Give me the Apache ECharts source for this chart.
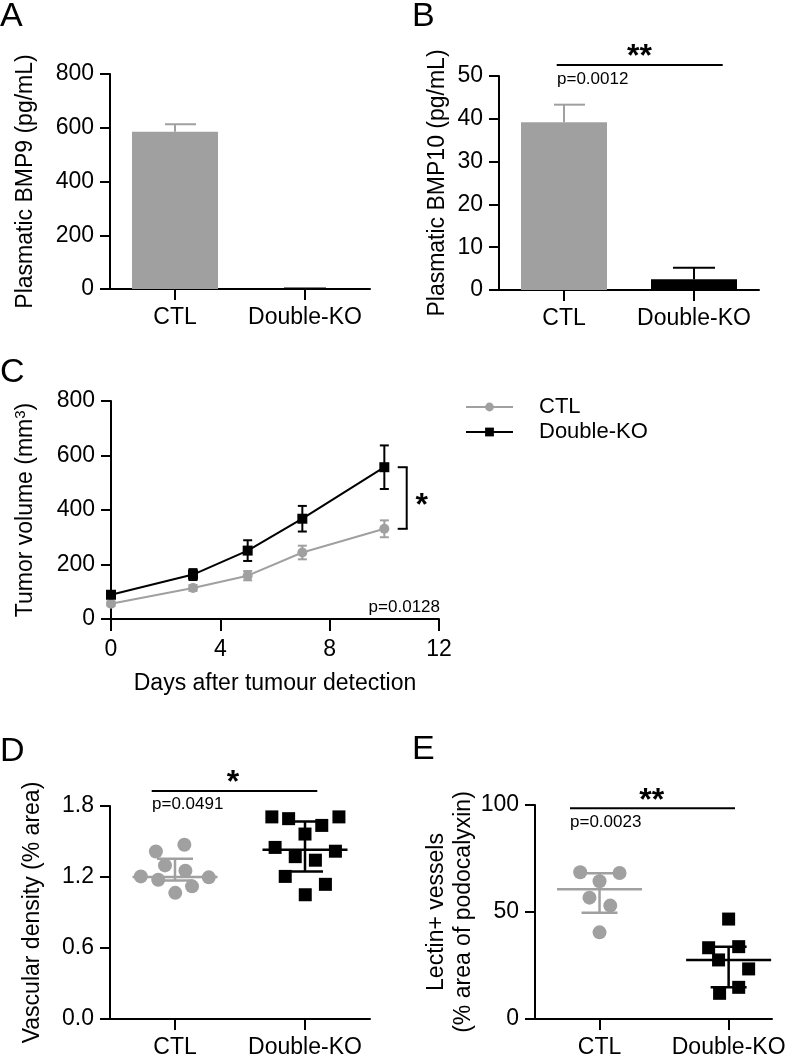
<!DOCTYPE html>
<html>
<head>
<meta charset="utf-8">
<script src="https://cdn.jsdelivr.net/npm/echarts@6/dist/echarts.min.js"></script>
<style>
html,body{margin:0;padding:0;background:#fff;}
#chart{width:794px;height:1059px;}
</style>
</head>
<body>
<div id="chart"></div>
<script>
// ---------- DATA ----------
const groups = ['CTL', 'Double-KO'];
// Panel A: plasmatic BMP9 (pg/mL)
const bmp9Mean = [585, 1];
const bmp9Err = [28, 1];
// Panel B: plasmatic BMP10 (pg/mL)
const bmp10Mean = [39.2, 2.5];
const bmp10Err = [4.1, 2.7];
// Panel C: tumor volume (mm3)
const days = [0, 3, 5, 7, 10];
const ctlVolume = [56, 114, 159, 244, 331];
const ctlVolumeErr = [8, 11, 17, 25, 31];
const dkoVolume = [89, 163, 251, 368, 557];
const dkoVolumeErr = [12, 20, 38, 47, 80];
// Panel D: vascular density (% area)
const vdCtl = [1.416, 1.472, 1.298, 1.205, 1.177, 1.253, 1.197, 1.121, 1.066];
const vdCtlJitter = [-0.147, 0.072, -0.077, -0.263, -0.129, 0.080, 0.260, 0.131, 0.002];
const vdDko = [1.708, 1.693, 1.636, 1.708, 1.563, 1.450, 1.372, 1.342, 1.418, 1.205, 1.138, 1.050];
const vdDkoJitter = [-0.255, -0.126, 0.129, 0.261, 0, -0.230, -0.075, 0.080, 0.234, -0.152, 0.157, 0.002];
const vdMedian = [1.20, 1.43];
const vdQ1 = [1.17, 1.247];
const vdQ3 = [1.354, 1.668];
// Panel E: lectin+ vessels (% area of podocalyxin)
const lcCtl = [68.6, 68.2, 64.4, 56.7, 53.0, 40.5];
const lcCtlJitter = [-0.150, 0.155, 0, -0.078, 0.083, 0];
const lcDko = [46.7, 33.3, 33.8, 27.6, 23.4, 12.0, 14.8];
const lcDkoJitter = [0, -0.155, 0.078, -0.078, 0.155, -0.07, 0.078];
const lcMedian = [60.6, 27.6];
const lcQ1 = [49.7, 14.8];
const lcQ3 = [68.1, 33.8];

// ---------- STYLE ----------
const GRAY = '#a0a0a0';
const BLACK = '#000000';
const FONT = '"Liberation Sans", Arial, Helvetica, sans-serif';
const FS = 23;
const groupColors = [GRAY, BLACK];

const chart = echarts.init(document.getElementById('chart'), null, {renderer: 'canvas'});

function yAxisBase(gridIndex, min, max, interval, name, nameGap, fmt) {
  return {
    type: 'value', gridIndex, min, max, interval, name, nameGap,
    nameLocation: 'middle',
    nameTextStyle: {fontFamily: FONT, fontSize: FS, color: BLACK, lineHeight: 27},
    axisLine: {show: true, onZero: false, lineStyle: {color: BLACK, width: 2}},
    axisTick: {show: true, length: 10, lineStyle: {color: BLACK, width: 2}},
    axisLabel: {fontFamily: FONT, fontSize: FS, color: BLACK, margin: 16,
      formatter: fmt || (v => String(v))},
    splitLine: {show: false}
  };
}
function catAxisValue(gridIndex, min, max) {
  return {
    type: 'value', gridIndex, min, max,
    axisLine: {show: true, onZero: false, lineStyle: {color: BLACK, width: 2}},
    axisTick: {show: true, length: 11, customValues: [0, 1], lineStyle: {color: BLACK, width: 2}},
    axisLabel: {fontFamily: FONT, fontSize: FS, color: BLACK, margin: 17, customValues: [0, 1],
      formatter: v => groups[Math.round(v)]},
    splitLine: {show: false}
  };
}
function catAxis(gridIndex) {
  return {
    type: 'category', gridIndex, data: groups, boundaryGap: true,
    axisLine: {show: true, lineStyle: {color: BLACK, width: 2}},
    axisTick: {show: true, length: 11, alignWithLabel: true, interval: 0, lineStyle: {color: BLACK, width: 2}},
    axisLabel: {fontFamily: FONT, fontSize: FS, color: BLACK, margin: 17, interval: 0, hideOverlap: false},
    splitLine: {show: false}
  };
}

function barErrRender(params, api) {
  const i = api.value(0), v = api.value(1), e = api.value(2);
  const base = api.coord([i, v]);
  const top = api.coord([i, v + e]);
  const col = groupColors[i];
  const capL = i === 0 ? 10 : 21, capR = 21;
  return {type: 'group', children: [
    {type: 'line', shape: {x1: base[0], y1: base[1], x2: top[0], y2: top[1]}, style: {stroke: col, lineWidth: 2}},
    {type: 'line', shape: {x1: top[0] - capL, y1: top[1], x2: top[0] + capR, y2: top[1]}, style: {stroke: col, lineWidth: 2}}
  ]};
}
function symErrRender(color) {
  return function (params, api) {
    const x = api.value(0), v = api.value(1), e = api.value(2);
    const lo = api.coord([x, v - e]), hi = api.coord([x, v + e]);
    return {type: 'group', children: [
      {type: 'line', shape: {x1: lo[0], y1: lo[1], x2: hi[0], y2: hi[1]}, style: {stroke: color, lineWidth: 2}},
      {type: 'line', shape: {x1: hi[0] - 4.5, y1: hi[1], x2: hi[0] + 4.5, y2: hi[1]}, style: {stroke: color, lineWidth: 2}},
      {type: 'line', shape: {x1: lo[0] - 4.5, y1: lo[1], x2: lo[0] + 4.5, y2: lo[1]}, style: {stroke: color, lineWidth: 2}}
    ]};
  };
}
function medianRender(params, api) {
  const i = api.value(0), m = api.value(1), q1 = api.value(2), q3 = api.value(3);
  const pm = api.coord([i, m]), p1 = api.coord([i, q1]), p3 = api.coord([i, q3]);
  const col = groupColors[i];
  const st = {stroke: col, lineWidth: 2.5};
  return {type: 'group', children: [
    {type: 'line', shape: {x1: pm[0] - 42.5, y1: pm[1], x2: pm[0] + 42.5, y2: pm[1]}, style: st},
    {type: 'line', shape: {x1: p1[0], y1: p1[1], x2: p3[0], y2: p3[1]}, style: st},
    {type: 'line', shape: {x1: p3[0] - 18, y1: p3[1], x2: p3[0] + 18, y2: p3[1]}, style: st},
    {type: 'line', shape: {x1: p1[0] - 18, y1: p1[1], x2: p1[0] + 18, y2: p1[1]}, style: st}
  ]};
}

const option = {
  animation: false,
  backgroundColor: '#ffffff',
  textStyle: {fontFamily: FONT},
  grid: [
    {left: 110, top: 74, width: 260, height: 215},      // A
    {left: 499, top: 76, width: 260, height: 214},      // B
    {left: 111, top: 401, width: 328, height: 218},     // C
    {left: 110, top: 806, width: 260, height: 214},     // D
    {left: 535, top: 805, width: 237, height: 214}      // E
  ],
  xAxis: [
    catAxis(0),
    catAxis(1),
    {
      type: 'value', gridIndex: 2, min: 0, max: 12, interval: 4,
      name: 'Days after tumour detection', nameLocation: 'middle', nameGap: 53,
      nameTextStyle: {fontFamily: FONT, fontSize: FS, color: BLACK},
      axisLine: {show: true, onZero: false, lineStyle: {color: BLACK, width: 2}},
      axisTick: {show: true, length: 12, lineStyle: {color: BLACK, width: 2}},
      axisLabel: {fontFamily: FONT, fontSize: FS, color: BLACK, margin: 19},
      splitLine: {show: false}
    },
    catAxisValue(3, -0.5, 1.5),
    catAxisValue(4, -0.5, 1.336)
  ],
  yAxis: [
    yAxisBase(0, 0, 800, 200, 'Plasmatic BMP9 (pg/mL)', 71),
    yAxisBase(1, 0, 50, 10, 'Plasmatic BMP10 (pg/mL)', 48),
    Object.assign(yAxisBase(2, 0, 800, 200, 'Tumor volume (mm{sup|3})', 73), {
      nameTextStyle: {fontFamily: FONT, fontSize: FS, color: BLACK,
        rich: {sup: {fontFamily: FONT, fontSize: 15, color: BLACK, verticalAlign: 'top', padding: [0, 0, 10, 0]}}}
    }),
    yAxisBase(3, 0, 1.8, 0.6, 'Vascular density (% area)', 64, v => v.toFixed(1)),
    yAxisBase(4, 0, 100, 50, 'Lectin+ vessels\n(% area of podocalyxin)', 54)
  ],
  legend: {
    data: ['CTL', 'Double-KO'],
    orient: 'vertical', left: 465, top: 396, padding: 0,
    itemWidth: 47, itemHeight: 11, itemGap: 3,
    textStyle: {fontFamily: FONT, fontSize: 22, color: BLACK, padding: [0, 0, 0, 21]}
  },
  series: [
    // A
    {type: 'bar', xAxisIndex: 0, yAxisIndex: 0, barWidth: 86,
      data: bmp9Mean.map((v, i) => ({value: v, itemStyle: {color: groupColors[i]}}))},
    {type: 'custom', xAxisIndex: 0, yAxisIndex: 0, renderItem: barErrRender, z: 3,
      data: bmp9Mean.map((v, i) => [i, v, bmp9Err[i]])},
    // B
    {type: 'bar', xAxisIndex: 1, yAxisIndex: 1, barWidth: 86,
      data: bmp10Mean.map((v, i) => ({value: v, itemStyle: {color: groupColors[i]}}))},
    {type: 'custom', xAxisIndex: 1, yAxisIndex: 1, renderItem: barErrRender, z: 3,
      data: bmp10Mean.map((v, i) => [i, v, bmp10Err[i]])},
    // C
    {type: 'custom', xAxisIndex: 2, yAxisIndex: 2, renderItem: symErrRender(GRAY), z: 2,
      data: days.map((d, i) => [d, ctlVolume[i], ctlVolumeErr[i]])},
    {type: 'custom', xAxisIndex: 2, yAxisIndex: 2, renderItem: symErrRender(BLACK), z: 2,
      data: days.map((d, i) => [d, dkoVolume[i], dkoVolumeErr[i]])},
    {name: 'CTL', type: 'line', xAxisIndex: 2, yAxisIndex: 2, z: 3,
      symbol: 'circle', symbolSize: 10, showAllSymbol: true,
      lineStyle: {color: GRAY, width: 2}, itemStyle: {color: GRAY},
      data: days.map((d, i) => [d, ctlVolume[i]])},
    {name: 'Double-KO', type: 'line', xAxisIndex: 2, yAxisIndex: 2, z: 4,
      symbol: 'rect', symbolSize: 10, showAllSymbol: true,
      lineStyle: {color: BLACK, width: 2}, itemStyle: {color: BLACK},
      data: days.map((d, i) => [d, dkoVolume[i]])},
    // D
    {type: 'scatter', xAxisIndex: 3, yAxisIndex: 3, symbol: 'circle', symbolSize: 14,
      itemStyle: {color: GRAY, opacity: 1}, data: vdCtl.map((v, i) => [0 + vdCtlJitter[i], v])},
    {type: 'scatter', xAxisIndex: 3, yAxisIndex: 3, symbol: 'rect', symbolSize: 13,
      itemStyle: {color: BLACK, opacity: 1}, data: vdDko.map((v, i) => [1 + vdDkoJitter[i], v])},
    {type: 'custom', xAxisIndex: 3, yAxisIndex: 3, renderItem: medianRender, z: 5,
      data: vdMedian.map((m, i) => [i, m, vdQ1[i], vdQ3[i]])},
    // E
    {type: 'scatter', xAxisIndex: 4, yAxisIndex: 4, symbol: 'circle', symbolSize: 14,
      itemStyle: {color: GRAY, opacity: 1}, data: lcCtl.map((v, i) => [0 + lcCtlJitter[i], v])},
    {type: 'scatter', xAxisIndex: 4, yAxisIndex: 4, symbol: 'rect', symbolSize: 13,
      itemStyle: {color: BLACK, opacity: 1}, data: lcDko.map((v, i) => [1 + lcDkoJitter[i], v])},
    {type: 'custom', xAxisIndex: 4, yAxisIndex: 4, renderItem: medianRender, z: 5,
      data: lcMedian.map((m, i) => [i, m, lcQ1[i], lcQ3[i]])}
  ]
};
chart.setOption(option);

// ---------- ANNOTATIONS ----------
function txt(x, y, text, size, align, weight) {
  return {type: 'text', x, y, z: 10, style: {text, fontFamily: FONT, fontSize: size, fill: BLACK,
    align: align || 'left', verticalAlign: 'middle', fontWeight: weight || 'normal'}};
}
function ln(x1, y1, x2, y2) {
  return {type: 'line', z: 10, shape: {x1, y1, x2, y2}, style: {stroke: BLACK, lineWidth: 2}};
}
const bracketTop = chart.convertToPixel({xAxisIndex: 2, yAxisIndex: 2}, [days[days.length - 1], dkoVolume[dkoVolume.length - 1]]);
const bracketBot = chart.convertToPixel({xAxisIndex: 2, yAxisIndex: 2}, [days[days.length - 1], ctlVolume[ctlVolume.length - 1]]);
const bx = 406.7;
chart.setOption({
  graphic: [
    txt(0, 17, 'A', 34), txt(412, 17, 'B', 34), txt(0, 373, 'C', 34),
    txt(0, 752, 'D', 34), txt(412, 750, 'E', 34),
    // B
    ln(556.7, 65, 722.7, 65), txt(639.5, 57, '**', 32, 'center', 'bold'), txt(557, 79, 'p=0.0012', 17),
    // C
    ln(bx, bracketTop[1], bx, bracketBot[1]), ln(bx - 9, bracketTop[1], bx + 1, bracketTop[1]),
    ln(bx - 9, bracketBot[1], bx + 1, bracketBot[1]),
    txt(421.7, 506, '*', 32, 'center', 'bold'), txt(440, 607, 'p=0.0128', 17, 'right'),
    // D
    ln(151.7, 791, 317.3, 791), txt(233, 783, '*', 32, 'center', 'bold'), txt(152, 804, 'p=0.0491', 17),
    // E
    ln(570, 808.3, 735, 808.3), txt(651.7, 801, '**', 32, 'center', 'bold'), txt(570, 822, 'p=0.0023', 17)
  ]
});
</script>
</body>
</html>
